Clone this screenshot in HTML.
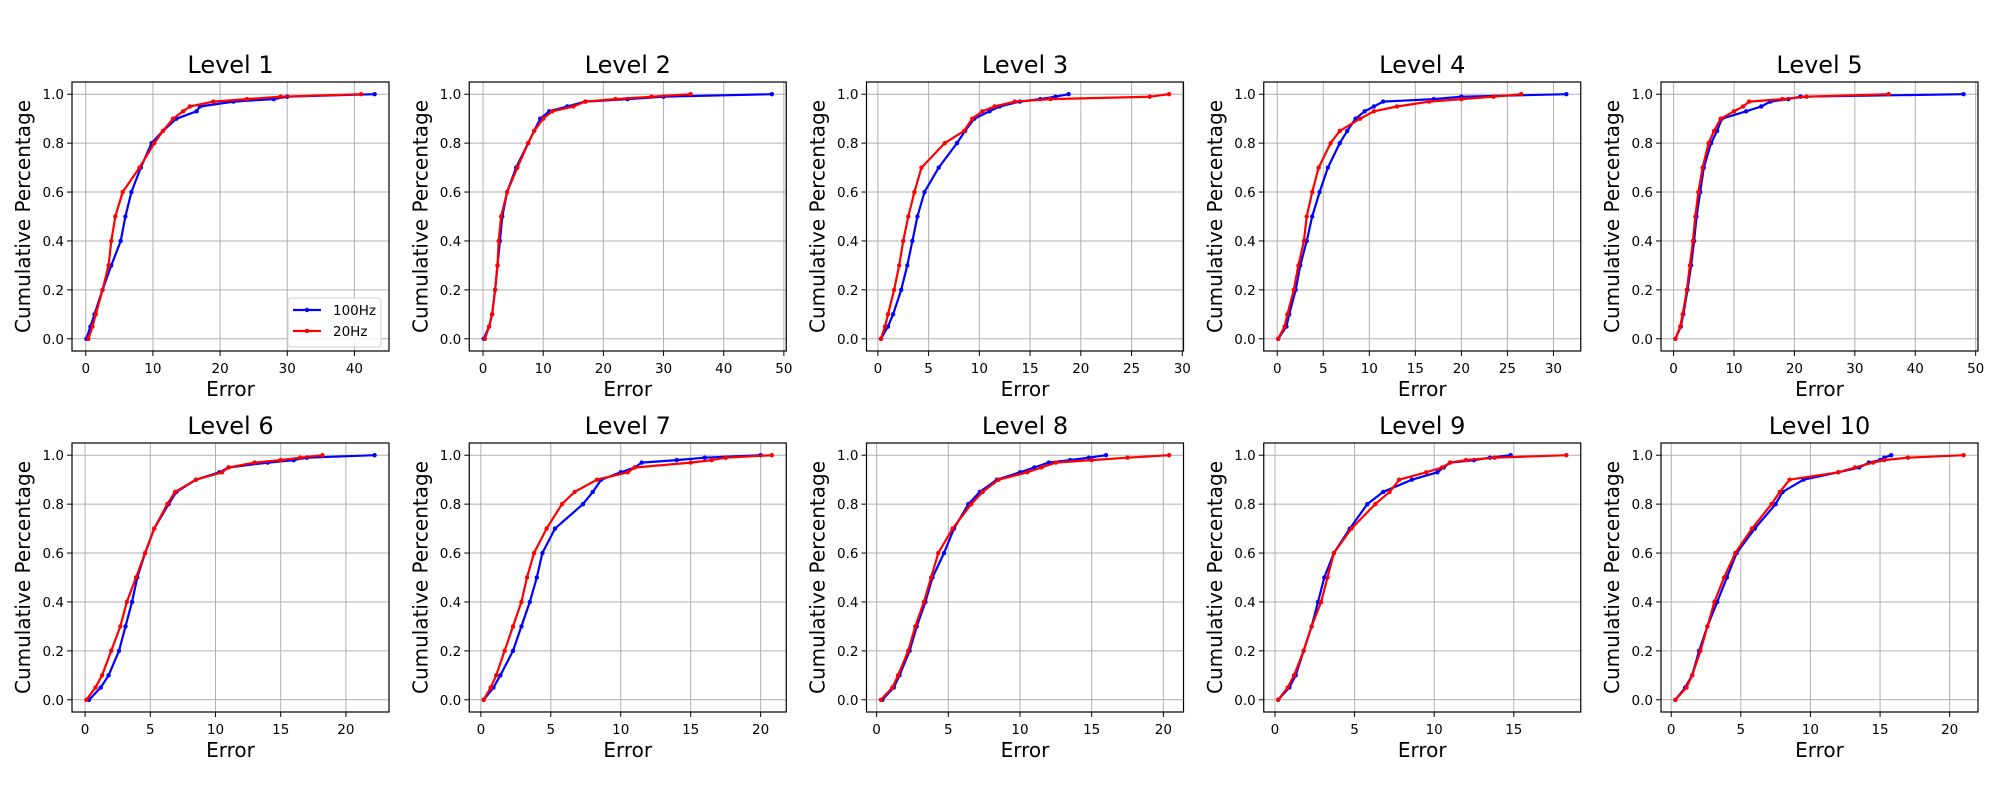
<!DOCTYPE html>
<html><head><meta charset="utf-8">
<style>
html,body{margin:0;padding:0;background:#fff;}
svg text{font-family:"DejaVu Sans","Liberation Sans",sans-serif;fill:#000;}
</style></head>
<body>
<svg id="fig" xmlns="http://www.w3.org/2000/svg" width="2000" height="800" viewBox="0 0 2000 800"></svg>
<script>
// Shared cumulative-percentage levels
const levels = [0, 0.05, 0.1, 0.2, 0.3, 0.4, 0.5, 0.6, 0.7, 0.8, 0.85, 0.9, 0.93, 0.95, 0.97, 0.98, 0.99, 1.0];
const panelTitles = ["Level 1","Level 2","Level 3","Level 4","Level 5","Level 6","Level 7","Level 8","Level 9","Level 10"];
// Error quantiles for 100Hz (blue)
const err100 = [
 [0.1,0.7,1.3,2.5,3.8,5.2,5.9,6.8,8.2,9.8,11.5,13.5,16.5,17,22,28,30,43],
 [0.1,1.0,1.5,2.0,2.4,2.8,3.2,4.0,5.5,7.5,8.5,9.5,11,14,17,24,30,48],
 [0.3,1.0,1.5,2.3,2.9,3.4,3.9,4.6,6.0,7.8,8.6,9.5,11,12,14,16,17.5,18.8],
 [0.1,1.0,1.3,2.0,2.5,3.2,3.8,4.6,5.5,6.8,7.6,8.5,9.5,10.5,11.5,17,20,31.4],
 [0.3,1.2,1.6,2.3,2.9,3.4,3.8,4.4,5.0,6.2,7.2,8.0,12,14.5,16,19,21,48],
 [0.3,1.2,1.8,2.6,3.1,3.6,4.0,4.6,5.3,6.4,7.0,8.5,10.3,11,14,16,17,22.2],
 [0.2,0.9,1.4,2.3,2.9,3.5,4.0,4.4,5.3,7.3,8.0,8.6,10,11,11.5,14,16,20],
 [0.4,1.2,1.6,2.3,2.8,3.4,3.9,4.7,5.4,6.4,7.2,8.4,10,11,12,13.5,14.8,16],
 [0.2,0.9,1.3,1.8,2.3,2.7,3.1,3.7,4.7,5.8,6.8,8.6,10.2,10.6,11,12.5,13.5,14.8],
 [0.3,1.0,1.5,2.0,2.6,3.3,4.0,4.7,6.0,7.5,8.0,9.5,12,13.5,14.2,15,15.3,15.8]
];
// Error quantiles for 20Hz (red)
const err20 = [
 [0.4,1.0,1.5,2.5,3.4,3.8,4.4,5.5,8.0,10.2,11.5,13,14.5,15.5,19,24,29,41],
 [0.3,1.0,1.5,2.0,2.4,2.6,3.0,4.0,5.7,7.5,8.5,10,11.5,15,17,22,28,34.5],
 [0.3,0.7,1.0,1.6,2.1,2.5,3.0,3.6,4.3,6.6,8.5,9.3,10.3,11.5,13.5,17,26.8,28.7],
 [0.1,0.8,1.1,1.8,2.3,2.9,3.2,3.8,4.5,5.8,6.8,9,10.5,13,16.5,20,23.5,26.5],
 [0.3,1.1,1.5,2.2,2.7,3.2,3.6,4.1,4.8,5.8,6.7,7.8,10,11.5,12.5,18,22,35.6],
 [0.1,0.8,1.3,2.0,2.7,3.2,3.9,4.6,5.3,6.3,6.9,8.5,10.5,11,13,15,16.5,18.2],
 [0.2,0.7,1.1,1.7,2.3,2.9,3.3,3.8,4.7,5.8,6.7,8.3,10.5,11,15,16.5,17.5,20.8],
 [0.3,1.1,1.5,2.2,2.7,3.3,3.8,4.3,5.3,6.6,7.4,8.5,10.5,11.5,12.5,15,17.5,20.4],
 [0.2,0.8,1.2,1.8,2.3,2.9,3.3,3.7,4.8,6.3,7.2,7.8,9.5,10.5,11,12,13.8,18.3],
 [0.3,1.1,1.5,2.1,2.6,3.1,3.8,4.6,5.8,7.2,7.8,8.5,12,13.2,14.5,15.3,17,21]
];
const xTickStep = [10,10,5,5,10,5,5,5,5,5];
const yTicks = [0,0.2,0.4,0.6,0.8,1.0];
const yTickLabels = ["0.0","0.2","0.4","0.6","0.8","1.0"];

const NS="http://www.w3.org/2000/svg";
const svg=document.getElementById('fig');
function mk(tag,attrs,parent){const e=document.createElementNS(NS,tag);for(const k in attrs)e.setAttribute(k,attrs[k]);(parent||svg).appendChild(e);return e;}

const colLeft=[72,469.25,866.5,1263.75,1661], rowTop=[82,443], W=317, H=269;

for(let p=0;p<10;p++){
  const L=colLeft[p%5], T=rowTop[Math.floor(p/5)];
  const g=mk('g',{});
  
  
  const all=err100[p].concat(err20[p]);
  const mn=Math.min(...all), mx=Math.max(...all), r=mx-mn;
  const x0=mn-0.05*r, x1=mx+0.05*r;
  const X=v=>L+(v-x0)/(x1-x0)*W;
  const Y=v=>T+(1.05-v)/1.1*H;
  // grid + x ticks
  for(let t=0;t<=x1+1e-9;t+=xTickStep[p]){
    if(t<x0) continue;
    const gl=mk('line',{x1:X(t),x2:X(t),y1:T,y2:T+H,stroke:'#b0b0b0','stroke-width':1},g);
    
    
    mk('line',{x1:X(t),x2:X(t),y1:T+H,y2:T+H+5,stroke:'#000','stroke-width':1},g);
    const tl=mk('text',{x:X(t),y:T+H+22,'text-anchor':'middle','font-size':13.5},g);
    tl.textContent=String(t);
    
    
  }
  yTicks.forEach((t,i)=>{
    const gl=mk('line',{x1:L,x2:L+W,y1:Y(t),y2:Y(t),stroke:'#b0b0b0','stroke-width':1},g);
    
    
    mk('line',{x1:L-5,x2:L,y1:Y(t),y2:Y(t),stroke:'#000','stroke-width':1},g);
    const tl=mk('text',{x:L-8,y:Y(t)+5,'text-anchor':'end','font-size':13.5},g);
    tl.textContent=yTickLabels[i];
    
    
  });
  // series
  [[err100[p],'#0000ff','series-100hz'],[err20[p],'#ff0000','series-20hz']].forEach(([xs,c,nm])=>{
    const d=xs.map((v,i)=>(i?'L':'M')+X(v).toFixed(1)+' '+Y(levels[i]).toFixed(1)).join(' ');
    const path=mk('path',{d:d,fill:'none',stroke:c,'stroke-width':2.2,'stroke-linejoin':'round'},g);
    
    
    xs.forEach((v,i)=>{
      const pt=mk('circle',{cx:X(v),cy:Y(levels[i]),r:2.2,fill:c},g);
      
      
    });
  });
  const fr=mk('rect',{x:L,y:T,width:W,height:H,fill:'none',stroke:'#000','stroke-width':1.2},g);
  
  
  const tt=mk('text',{x:L+W/2,y:T-9,'text-anchor':'middle','font-size':24},g);
  tt.textContent=panelTitles[p];
  
  
  const xl=mk('text',{x:L+W/2,y:T+H+45,'text-anchor':'middle','font-size':20},g);
  xl.textContent='Error';
  
  
  const yl=mk('text',{x:0,y:0,'text-anchor':'middle','font-size':20,transform:'translate('+(L-42)+','+(T+H/2)+') rotate(-90)'},g);
  yl.textContent='Cumulative Percentage';
  
  
}
// legend in Level 1
const lg=mk('g',{});


mk('rect',{x:288,y:298,width:93,height:49,rx:3,fill:'#fff','fill-opacity':0.85,stroke:'#d0d0d0','stroke-width':1},lg);
[['100Hz','#0000ff',315],['20Hz','#ff0000',336]].forEach(([lab,c,yy])=>{
  const e=mk('g',{},lg);
  
  
  mk('line',{x1:293,x2:321,y1:yy-5,y2:yy-5,stroke:c,'stroke-width':2.2},e);
  mk('circle',{cx:307,cy:yy-5,r:2.2,fill:c},e);
  const t=mk('text',{x:333,y:yy,'font-size':13.5},e);
  t.textContent=lab;
});
</script>
</body></html>
